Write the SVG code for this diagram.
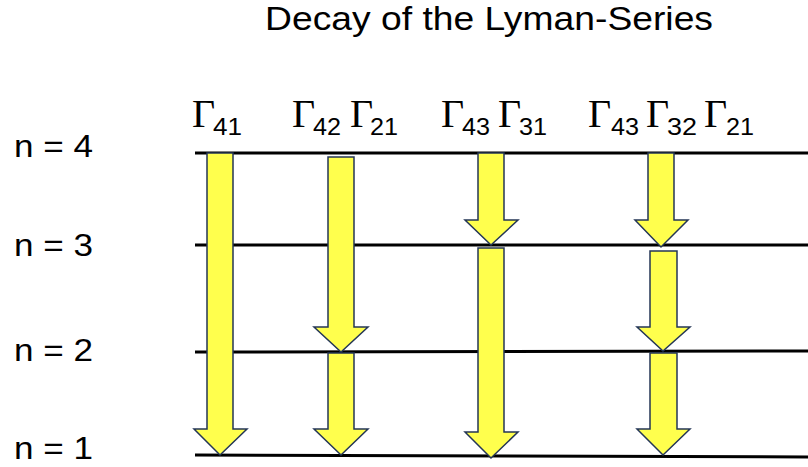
<svg xmlns="http://www.w3.org/2000/svg" width="808" height="467" viewBox="0 0 808 467">
<style>
.lvl{stroke:#000;stroke-width:3;fill:none}
.arr{fill:#ffff4d;stroke:#243656;stroke-width:1.5;stroke-linejoin:miter}
.t{font-family:"Liberation Sans",Arial,sans-serif;fill:#000}
.g{font-family:"Liberation Serif",serif;font-size:40px;fill:#000}
.s{font-family:"Liberation Sans",Arial,sans-serif;font-size:24px;fill:#000}
.n{font-family:"Liberation Sans",Arial,sans-serif;font-size:32px;fill:#000}
</style>
<rect width="808" height="467" fill="#fff"/>
<text class="t" x="265" y="30" font-size="33" textLength="448" lengthAdjust="spacingAndGlyphs">Decay of the Lyman-Series</text>
<g id="levels">
<line class="lvl" x1="195" y1="153" x2="808" y2="153"/>
<line class="lvl" x1="195" y1="245" x2="808" y2="245"/>
<line class="lvl" x1="195" y1="352" x2="808" y2="351"/>
<line class="lvl" x1="195" y1="455" x2="808" y2="457"/>
</g>
<g id="level-labels">
<text class="n" x="14" y="157" textLength="79" lengthAdjust="spacingAndGlyphs">n = 4</text>
<text class="n" x="14" y="256" textLength="79" lengthAdjust="spacingAndGlyphs">n = 3</text>
<text class="n" x="14" y="361" textLength="79" lengthAdjust="spacingAndGlyphs">n = 2</text>
<text class="n" x="14" y="459" textLength="79" lengthAdjust="spacingAndGlyphs">n = 1</text>
</g>
<g id="label-41">
<text class="g" x="192" y="127">Γ</text><text class="s" x="213" y="135" textLength="29" lengthAdjust="spacingAndGlyphs">41</text>
</g>
<g id="label-42-21">
<text class="g" x="292" y="127">Γ</text><text class="s" x="313" y="135" textLength="28" lengthAdjust="spacingAndGlyphs">42</text>
<text class="g" x="350" y="127">Γ</text><text class="s" x="370" y="135" textLength="28" lengthAdjust="spacingAndGlyphs">21</text>
</g>
<g id="label-43-31">
<text class="g" x="441" y="127">Γ</text><text class="s" x="462" y="135" textLength="28" lengthAdjust="spacingAndGlyphs">43</text>
<text class="g" x="498" y="127">Γ</text><text class="s" x="519" y="135" textLength="28" lengthAdjust="spacingAndGlyphs">31</text>
</g>
<g id="label-43-32-21">
<text class="g" x="588" y="127">Γ</text><text class="s" x="611" y="135" textLength="28" lengthAdjust="spacingAndGlyphs">43</text>
<text class="g" x="646" y="127">Γ</text><text class="s" x="667" y="135" textLength="30" lengthAdjust="spacingAndGlyphs">32</text>
<text class="g" x="704" y="127">Γ</text><text class="s" x="726" y="135" textLength="28" lengthAdjust="spacingAndGlyphs">21</text>
</g>
<g id="connectors">
<path class="arr" d="M207,153 L233,153 L233,429 L247,429 L220,455 L194,429 L207,429 Z"/>
<path class="arr" d="M328,157 L354,157 L354,327 L368,327 L341,352 L314,327 L328,327 Z"/>
<path class="arr" d="M328,353 L354,353 L354,429 L368,429 L341,455 L314,429 L328,429 Z"/>
<path class="arr" d="M478,153 L504,153 L504,220 L518,220 L491,245 L465,220 L478,220 Z"/>
<path class="arr" d="M478,248 L504,248 L504,432 L518,432 L491,458 L465,432 L478,432 Z"/>
<path class="arr" d="M648,153 L674,153 L674,220 L688,220 L661,247 L635,220 L648,220 Z"/>
<path class="arr" d="M650,251 L677,251 L677,327 L690,327 L663,351 L637,327 L650,327 Z"/>
<path class="arr" d="M650,353 L677,353 L677,429 L690,429 L663,455 L637,429 L650,429 Z"/>
</g>
</svg>
